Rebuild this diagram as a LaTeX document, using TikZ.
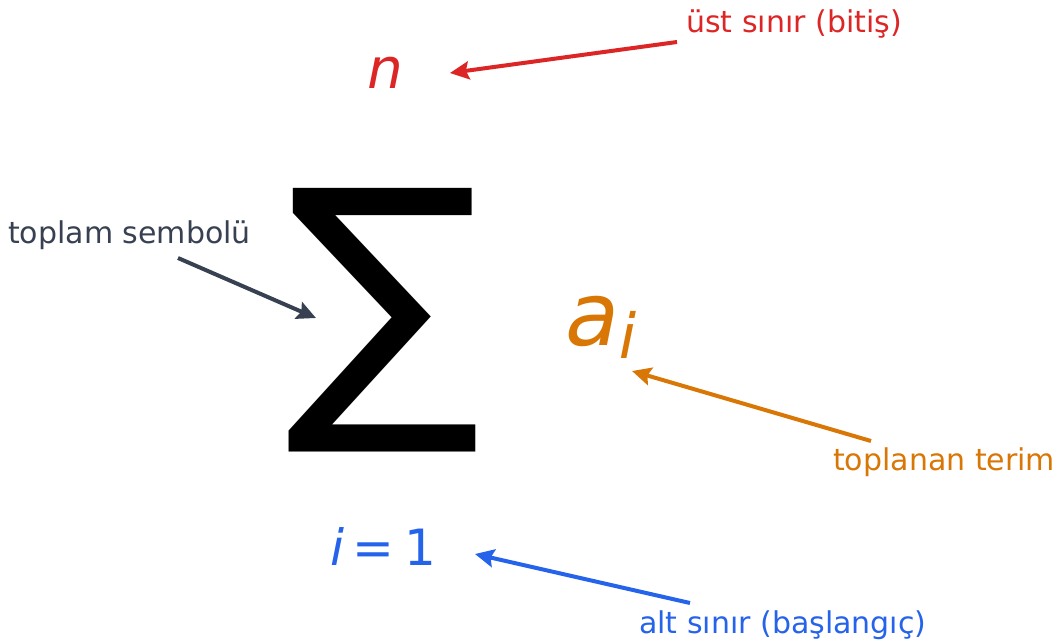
\documentclass[tikz,border=0pt]{standalone}
\usepackage{fontspec}
\setmainfont{DejaVu Sans}
\newfontfamily\obl{DejaVu Sans}[FakeSlant=0.2]
\usepackage{xcolor}
\usetikzlibrary{arrows.meta}
\definecolor{upred}{HTML}{DC2626}
\definecolor{symgray}{HTML}{374151}
\definecolor{termorange}{HTML}{D97706}
\definecolor{lowblue}{HTML}{2563EB}
\begin{document}
\begin{tikzpicture}[x=1pt,y=-1pt,>={Stealth[length=19pt,width=18pt,inset=3pt]},
  lbl/.style={inner sep=0pt,anchor=base west,font=\fontsize{30}{36}\selectfont},
  pointer/.style={->,line width=4pt}]
\useasboundingbox (0,0) rectangle (1058,643);
\node[inner sep=0pt] (sigma) at (384,320.5) {\resizebox{196pt}{208pt}{∑}};
\node[inner sep=0pt,anchor=base,text=upred,font=\fontsize{56}{60}\selectfont\obl] (upper) at (382,88) {n};
\node[inner sep=0pt,anchor=base west,text=termorange] (term) at (561,345)
  {{\fontsize{88}{90}\selectfont\obl a}\hspace{0pt}\raisebox{-13pt}{\fontsize{62}{64}\selectfont\obl i}};
\node[inner sep=0pt,anchor=base west,text=lowblue,font=\fontsize{50}{54}\selectfont] (lower) at (327,565)
  {{\obl i}\hspace{11pt}=\hspace{11pt}1};
\node[lbl,text=upred] (upperlbl) at (686,32) {üst sınır (bitiş)};
\node[lbl,text=symgray] (sigmalbl) at (8,243) {toplam sembolü};
\node[lbl,text=termorange] (termlbl) at (833,470) {toplanan terim};
\node[lbl,text=lowblue] (lowerlbl) at (639,633) {alt sınır (başlangıç)};
\coordinate (uppertail) at (677,42); \coordinate (uppertip) at (450,73);
\coordinate (sigmatail) at (178,258); \coordinate (sigmatip) at (316,318);
\coordinate (termtail) at (871,441); \coordinate (termtip) at (632,371);
\coordinate (lowertail) at (690,603); \coordinate (lowertip) at (475,554);
\draw[pointer,upred] (uppertail) -- (uppertip);
\draw[pointer,symgray] (sigmatail) -- (sigmatip);
\draw[pointer,termorange] (termtail) -- (termtip);
\draw[pointer,lowblue] (lowertail) -- (lowertip);
\end{tikzpicture}
\end{document}
